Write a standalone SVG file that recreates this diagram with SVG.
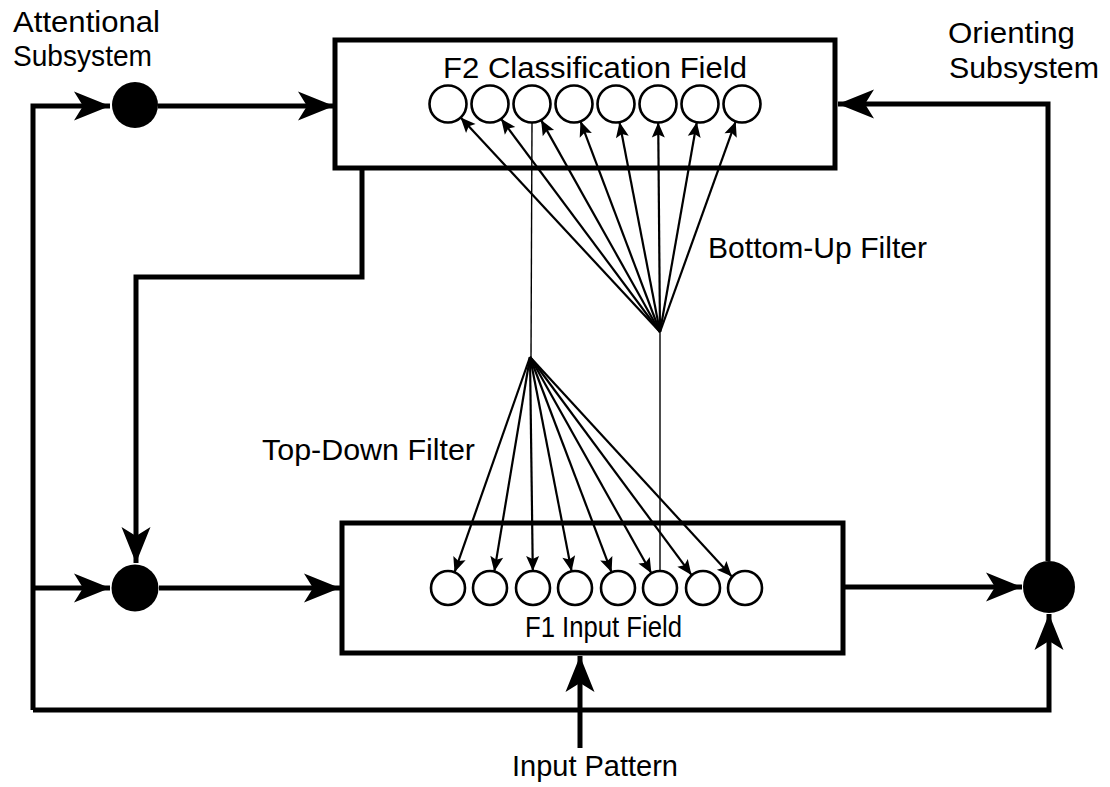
<svg xmlns="http://www.w3.org/2000/svg" width="1110" height="787" viewBox="0 0 1110 787">
<defs>
<style>
.lbl{font-family:"Liberation Sans",Arial,sans-serif;font-size:29px;fill:#000}
.box{fill:#fff;stroke:#000;stroke-width:5}
.unit{fill:#fff;stroke:#000;stroke-width:2.6}
.dot{fill:#000}
.thick{fill:none;stroke:#000;stroke-width:5;stroke-linejoin:miter}
.thin{fill:none;stroke:#000;stroke-width:2.2}
.hair{fill:none;stroke:#000;stroke-width:1.4}
</style>
<marker id="big" markerUnits="userSpaceOnUse" markerWidth="42" markerHeight="34" viewBox="-38 -17 42 34" refX="0" refY="0" orient="auto">
<path d="M0,0 L-36,-14.5 L-27,0 L-36,14.5 Z" fill="#000"/>
</marker>
<marker id="small" markerUnits="userSpaceOnUse" markerWidth="19" markerHeight="16" viewBox="-17 -8 19 16" refX="0" refY="0" orient="auto">
<path d="M0,0 L-15,-6.5 L-12,0 L-15,6.5 Z" fill="#000"/>
</marker>
</defs>
<rect width="1110" height="787" fill="#fff"/>

<g id="f2-field">
<rect class="box" x="335" y="40" width="500" height="128"/>
<text class="lbl" x="443" y="78" textLength="304" lengthAdjust="spacingAndGlyphs">F2 Classification Field</text>
<circle class="unit" cx="448" cy="104" r="18.5"/>
<circle class="unit" cx="490" cy="104" r="18.5"/>
<circle class="unit" cx="532" cy="104" r="18.5"/>
<circle class="unit" cx="574" cy="104" r="18.5"/>
<circle class="unit" cx="616" cy="104" r="18.5"/>
<circle class="unit" cx="658" cy="104" r="18.5"/>
<circle class="unit" cx="700" cy="104" r="18.5"/>
<circle class="unit" cx="742" cy="104" r="18.5"/>
</g>

<g id="f1-field">
<rect class="box" x="342" y="523" width="501" height="130"/>
<text class="lbl" x="525" y="637" textLength="157" lengthAdjust="spacingAndGlyphs">F1 Input Field</text>
<circle class="unit" cx="448" cy="588" r="17"/>
<circle class="unit" cx="490" cy="588" r="17"/>
<circle class="unit" cx="533" cy="588" r="17"/>
<circle class="unit" cx="575" cy="588" r="17"/>
<circle class="unit" cx="618" cy="588" r="17"/>
<circle class="unit" cx="660" cy="588" r="17"/>
<circle class="unit" cx="703" cy="588" r="17"/>
<circle class="unit" cx="745" cy="588" r="17"/>
</g>

<g id="attentional-gain-top">
<circle class="dot" cx="135" cy="105" r="23"/>
</g>
<g id="attentional-gain-bottom">
<circle class="dot" cx="135" cy="588" r="23.5"/>
</g>
<g id="orienting-node">
<circle class="dot" cx="1049" cy="587" r="26"/>
</g>

<g id="labels">
<text class="lbl" x="13" y="32" textLength="147" lengthAdjust="spacingAndGlyphs">Attentional</text>
<text class="lbl" x="13" y="66" textLength="139" lengthAdjust="spacingAndGlyphs">Subsystem</text>
<text class="lbl" x="948" y="43" textLength="127" lengthAdjust="spacingAndGlyphs">Orienting</text>
<text class="lbl" x="949" y="78" textLength="150" lengthAdjust="spacingAndGlyphs">Subsystem</text>
<text class="lbl" x="708" y="258" textLength="219" lengthAdjust="spacingAndGlyphs">Bottom-Up Filter</text>
<text class="lbl" x="262" y="460" textLength="213" lengthAdjust="spacingAndGlyphs">Top-Down Filter</text>
<text class="lbl" x="512" y="776" textLength="166" lengthAdjust="spacingAndGlyphs">Input Pattern</text>
</g>

<g id="connectors">
<polyline class="thick" points="33,710 33,106 110,106" marker-end="url(#big)"/>
<line class="thick" x1="158" y1="106" x2="334" y2="106" marker-end="url(#big)"/>
<polyline class="thick" points="1048,561 1048,104 838,104" marker-end="url(#big)"/>
<polyline class="thick" points="362,168 362,277 136,277 136,563" marker-end="url(#big)"/>
<line class="thick" x1="33" y1="588" x2="110" y2="588" marker-end="url(#big)"/>
<line class="thick" x1="159" y1="588" x2="340" y2="588" marker-end="url(#big)"/>
<line class="thick" x1="845" y1="587" x2="1022" y2="587" marker-end="url(#big)"/>
<polyline class="thick" points="33,710 1049,710 1049,614" marker-end="url(#big)"/>
<line class="thick" x1="580" y1="748" x2="580" y2="656" marker-end="url(#big)"/>

<line class="hair" x1="660" y1="332" x2="660" y2="571"/>
<line class="thin" x1="660" y1="332" x2="460.6" y2="117.5" marker-end="url(#small)"/>
<line class="thin" x1="660" y1="332" x2="501.1" y2="118.8" marker-end="url(#small)"/>
<line class="thin" x1="660" y1="332" x2="541.1" y2="120.1" marker-end="url(#small)"/>
<line class="thin" x1="660" y1="332" x2="580.5" y2="121.3" marker-end="url(#small)"/>
<line class="thin" x1="660" y1="332" x2="619.5" y2="122.2" marker-end="url(#small)"/>
<line class="thin" x1="660" y1="332" x2="658.2" y2="122.5" marker-end="url(#small)"/>
<line class="thin" x1="660" y1="332" x2="696.8" y2="122.2" marker-end="url(#small)"/>
<line class="thin" x1="660" y1="332" x2="735.7" y2="121.4" marker-end="url(#small)"/>

<line class="hair" x1="531" y1="357" x2="532" y2="122.5"/>
<line class="thin" x1="530" y1="357" x2="454.5" y2="572.3" marker-end="url(#small)"/>
<line class="thin" x1="530" y1="357" x2="494.3" y2="571.6" marker-end="url(#small)"/>
<line class="thin" x1="530" y1="357" x2="532.8" y2="571" marker-end="url(#small)"/>
<line class="thin" x1="530" y1="357" x2="571.6" y2="571.3" marker-end="url(#small)"/>
<line class="thin" x1="530" y1="357" x2="611.6" y2="572.3" marker-end="url(#small)"/>
<line class="thin" x1="530" y1="357" x2="651.4" y2="573.3" marker-end="url(#small)"/>
<line class="thin" x1="530" y1="357" x2="691.5" y2="574.9" marker-end="url(#small)"/>
<line class="thin" x1="530" y1="357" x2="731.8" y2="576.5" marker-end="url(#small)"/>
</g>
</svg>
